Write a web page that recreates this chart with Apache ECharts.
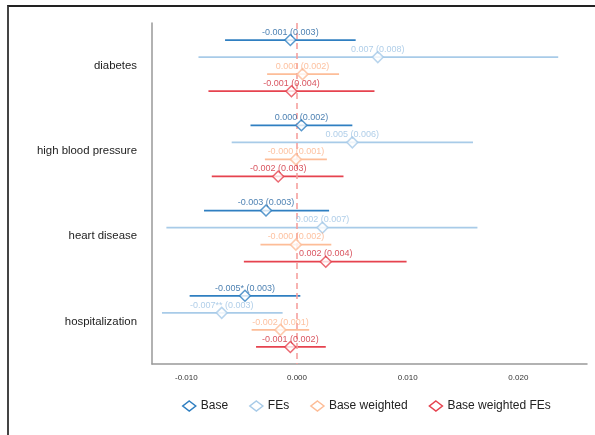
<!DOCTYPE html>
<html><head><meta charset="utf-8">
<script src="https://cdn.jsdelivr.net/npm/echarts@6/dist/echarts.min.js"></script>
<style>
html,body{margin:0;padding:0;background:#fff;}
#frame{position:absolute;left:7px;top:5px;width:600px;height:440px;border-left:2px solid #444;border-top:2px solid #222;}
#c{position:absolute;left:0;top:0;width:595px;height:435px;}
</style></head>
<body><div id="frame"></div><div id="c"></div>
<script>
const categories = ['diabetes', 'high blood pressure', 'heart disease', 'hospitalization'];
const seriesNames = ['Base', 'FEs', 'Base weighted', 'Base weighted FEs'];
const colors = ['#2f7fc1', '#a8cbe8', '#fdbd98', '#e6434f'];
const labelColors = ['#1d5f9e', '#9ec3e3', '#fcb38a', '#cf2a38'];
const xTicks = [-0.01, 0, 0.01, 0.02];

const baseEst = [-0.0006, 0.0004, -0.0028, -0.0047];
const baseLo  = [-0.0065, -0.0042, -0.0084, -0.0097];
const baseHi  = [0.0053, 0.0050, 0.0029, 0.0003];
const baseLbl = ['-0.001 (0.003)', '0.000 (0.002)', '-0.003 (0.003)', '-0.005* (0.003)'];

const feEst = [0.0073, 0.0050, 0.0023, -0.0068];
const feLo  = [-0.0089, -0.0059, -0.0118, -0.0122];
const feHi  = [0.0236, 0.0159, 0.0163, -0.0013];
const feLbl = ['0.007 (0.008)', '0.005 (0.006)', '0.002 (0.007)', '-0.007** (0.003)'];

const bwEst = [0.0005, -0.0001, -0.0001, -0.0015];
const bwLo  = [-0.0027, -0.0029, -0.0033, -0.0041];
const bwHi  = [0.0038, 0.0027, 0.0031, 0.0011];
const bwLbl = ['0.000 (0.002)', '-0.000 (0.001)', '-0.000 (0.002)', '-0.002 (0.001)'];

const bwfeEst = [-0.0005, -0.0017, 0.0026, -0.0006];
const bwfeLo  = [-0.0080, -0.0077, -0.0048, -0.0037];
const bwfeHi  = [0.0070, 0.0042, 0.0099, 0.0026];
const bwfeLbl = ['-0.001 (0.004)', '-0.002 (0.003)', '0.002 (0.004)', '-0.001 (0.002)'];

const groups = [
  [baseEst, baseLo, baseHi, baseLbl],
  [feEst, feLo, feHi, feLbl],
  [bwEst, bwLo, bwHi, bwLbl],
  [bwfeEst, bwfeLo, bwfeHi, bwfeLbl]
];

const font = 'Liberation Sans, Arial, sans-serif';
const series = [];
groups.forEach(function (g, s) {
  const est = g[0], lo = g[1], hi = g[2], lbl = g[3];
  const pts = est.map(function (v, c) { return { value: [v, c * 5 + 1 + s], lbl: lbl[c] }; });
  const bars = lo.map(function (v, c) { return [v, hi[c], c * 5 + 1 + s]; });
  series.push({
    name: seriesNames[s], type: 'custom', xAxisIndex: 0, yAxisIndex: 0, z: 2,
    data: bars, encode: { x: [0, 1], y: 2 },
    itemStyle: { color: '#fff', borderColor: colors[s] },
    renderItem: function (params, api) {
      const a = api.coord([api.value(0), api.value(2)]);
      const b = api.coord([api.value(1), api.value(2)]);
      return { type: 'line', shape: { x1: a[0], y1: a[1], x2: b[0], y2: b[1] },
        style: { stroke: colors[s], lineWidth: 1.7 } };
    }
  });
  series.push({
    name: seriesNames[s], type: 'scatter', xAxisIndex: 0, yAxisIndex: 0, z: 5,
    symbol: 'diamond', symbolSize: [11, 11],
    itemStyle: { color: '#fff', borderColor: colors[s], borderWidth: 1.5 },
    label: { show: true, position: 'top', distance: -3,
      formatter: function (p) { return p.data.lbl; },
      color: labelColors[s], fontSize: 9, fontFamily: font },
    data: pts
  });
});
series.push({
  type: 'custom', xAxisIndex: 0, yAxisIndex: 0, z: 3, data: [],
  renderItem: function () { return null; },
  markLine: { silent: true, symbol: 'none', label: { show: false },
    lineStyle: { color: '#f6a09e', type: [6, 4], width: 1.6 },
    data: [{ xAxis: 0 }] }
});

const chart = echarts.init(document.getElementById('c'));
chart.setOption({
  animation: false,
  backgroundColor: 'transparent',
  grid: { left: 152, right: 8, top: 23, bottom: 71 },
  legend: {
    data: seriesNames.map(function (n, i) {
      return { name: n, icon: 'diamond', itemStyle: { color: '#fff', borderColor: colors[i], borderWidth: 1.5 } };
    }),
    left: 177, top: 395, itemWidth: 13, itemHeight: 10, itemGap: 21,
    textStyle: { fontSize: 12, color: '#222', fontFamily: font }
  },
  xAxis: {
    type: 'value', min: -0.0131, max: 0.0262,
    axisLine: { show: true, onZero: false, lineStyle: { color: '#999', width: 1.5 } },
    axisTick: { show: false }, splitLine: { show: false },
    axisLabel: { customValues: xTicks, formatter: function (v) { return v.toFixed(3); },
      fontSize: 8, color: '#333', margin: 10, fontFamily: font }
  },
  yAxis: [
    { type: 'value', min: 0, max: 20, inverse: true, show: false },
    { type: 'category', data: categories, inverse: true, position: 'left',
      axisLine: { show: true, lineStyle: { color: '#999', width: 1.5 } },
      axisTick: { show: false }, splitLine: { show: false },
      axisLabel: { fontSize: 11.4, color: '#222', margin: 15, fontFamily: font } }
  ],
  series: series
});
</script></body></html>
